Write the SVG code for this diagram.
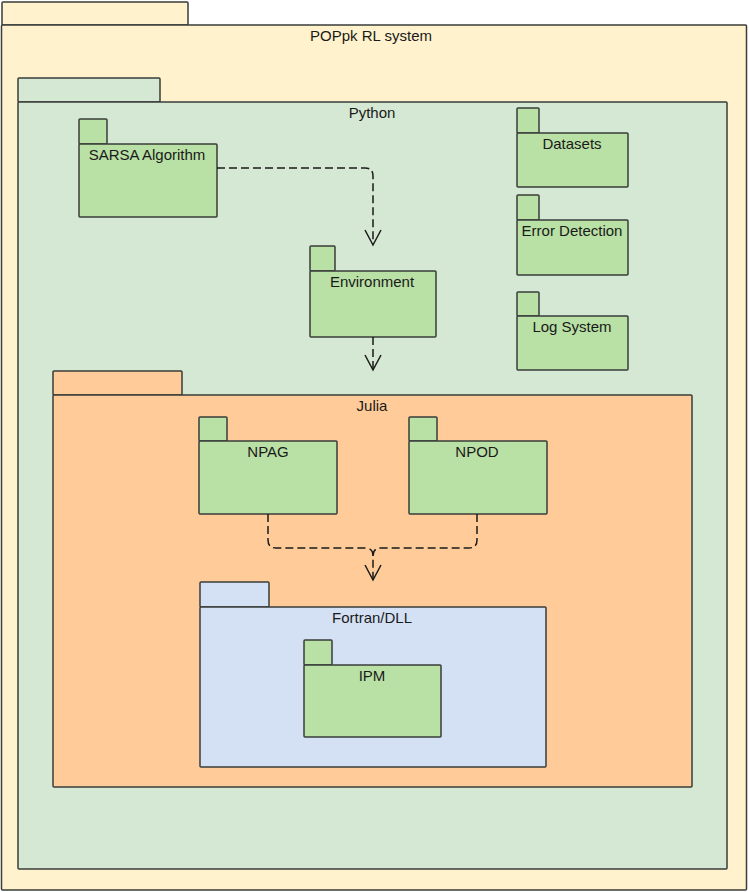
<svg xmlns="http://www.w3.org/2000/svg" width="749" height="892" viewBox="0 0 749 892">
<defs>
<style>
.pk{stroke:#3a3d3a;stroke-width:1.5;stroke-linejoin:round}
.outer{fill:#fff2cc}
.py{fill:#d5e8d4}
.jl{fill:#ffcc99}
.ft{fill:#d4e1f5}
.nd{fill:#b9e0a5}
text{font-family:"Liberation Sans",Arial,sans-serif;font-size:15px;fill:#1a1a1a;text-anchor:middle}
.cn{fill:none;stroke:#1a1a1a;stroke-width:1.5;stroke-dasharray:8 4}
.ah{fill:none;stroke:#1a1a1a;stroke-width:1.5}
</style>
</defs>
<g id="popk">
<rect class="pk outer" x="2" y="2" width="186" height="23" rx="1"/>
<rect class="pk outer" x="1.5" y="25" width="745" height="865" rx="1"/>
<text x="371" y="41">POPpk RL system</text>
</g>
<g id="python">
<rect class="pk py" x="18" y="78" width="142" height="24" rx="1"/>
<rect class="pk py" x="18" y="102" width="709" height="767" rx="1"/>
<text x="372" y="118">Python</text>
</g>
<g id="sarsa">
<rect class="pk nd" x="79" y="119" width="28" height="25" rx="1"/>
<rect class="pk nd" x="79" y="144" width="138" height="73" rx="1"/>
<text x="147" y="160">SARSA Algorithm</text>
</g>
<g id="environment">
<rect class="pk nd" x="310" y="246" width="25" height="25" rx="1"/>
<rect class="pk nd" x="310" y="271" width="126" height="66" rx="1"/>
<text x="372" y="287">Environment</text>
</g>
<g id="datasets">
<rect class="pk nd" x="517" y="108" width="22" height="25" rx="1"/>
<rect class="pk nd" x="517" y="133" width="111" height="54" rx="1"/>
<text x="572" y="149">Datasets</text>
</g>
<g id="error-detection">
<rect class="pk nd" x="517" y="195" width="22" height="25" rx="1"/>
<rect class="pk nd" x="517" y="220" width="111" height="55" rx="1"/>
<text x="572" y="236">Error Detection</text>
</g>
<g id="log-system">
<rect class="pk nd" x="517" y="292" width="22" height="24" rx="1"/>
<rect class="pk nd" x="517" y="316" width="111" height="54" rx="1"/>
<text x="572" y="332">Log System</text>
</g>
<g id="julia">
<rect class="pk jl" x="53" y="371" width="129" height="24" rx="1"/>
<rect class="pk jl" x="53" y="395" width="639" height="392" rx="1"/>
<text x="372" y="411">Julia</text>
</g>
<g id="npag">
<rect class="pk nd" x="199" y="417" width="28" height="24" rx="1"/>
<rect class="pk nd" x="199" y="441" width="138" height="73" rx="1"/>
<text x="268" y="457">NPAG</text>
</g>
<g id="npod">
<rect class="pk nd" x="409" y="417" width="28" height="24" rx="1"/>
<rect class="pk nd" x="409" y="441" width="138" height="73" rx="1"/>
<text x="477" y="457">NPOD</text>
</g>
<g id="fortran">
<rect class="pk ft" x="200" y="582" width="69" height="25" rx="1"/>
<rect class="pk ft" x="200" y="607" width="346" height="160" rx="1"/>
<text x="372" y="623">Fortran/DLL</text>
</g>
<g id="ipm">
<rect class="pk nd" x="304" y="640" width="28" height="25" rx="1"/>
<rect class="pk nd" x="304" y="665" width="137" height="72" rx="1"/>
<text x="372" y="681">IPM</text>
</g>
<g id="connectors">
<path class="cn" d="M217 168 H365 Q373 168 373 176 V244"/>
<path class="ah" d="M365 230 L373 245 L381 230"/>
<path class="cn" d="M373 337 V369"/>
<path class="ah" d="M365 355 L373 370 L381 355"/>
<path class="cn" d="M268 514 V540 Q268 548 276 548 H365 Q373 548 373 556 V579"/>
<path class="cn" d="M477 514 V540 Q477 548 469 548 H381 Q373 548 373 556"/>
<path class="ah" d="M365 565 L373 580 L381 565"/>
</g>
</svg>
